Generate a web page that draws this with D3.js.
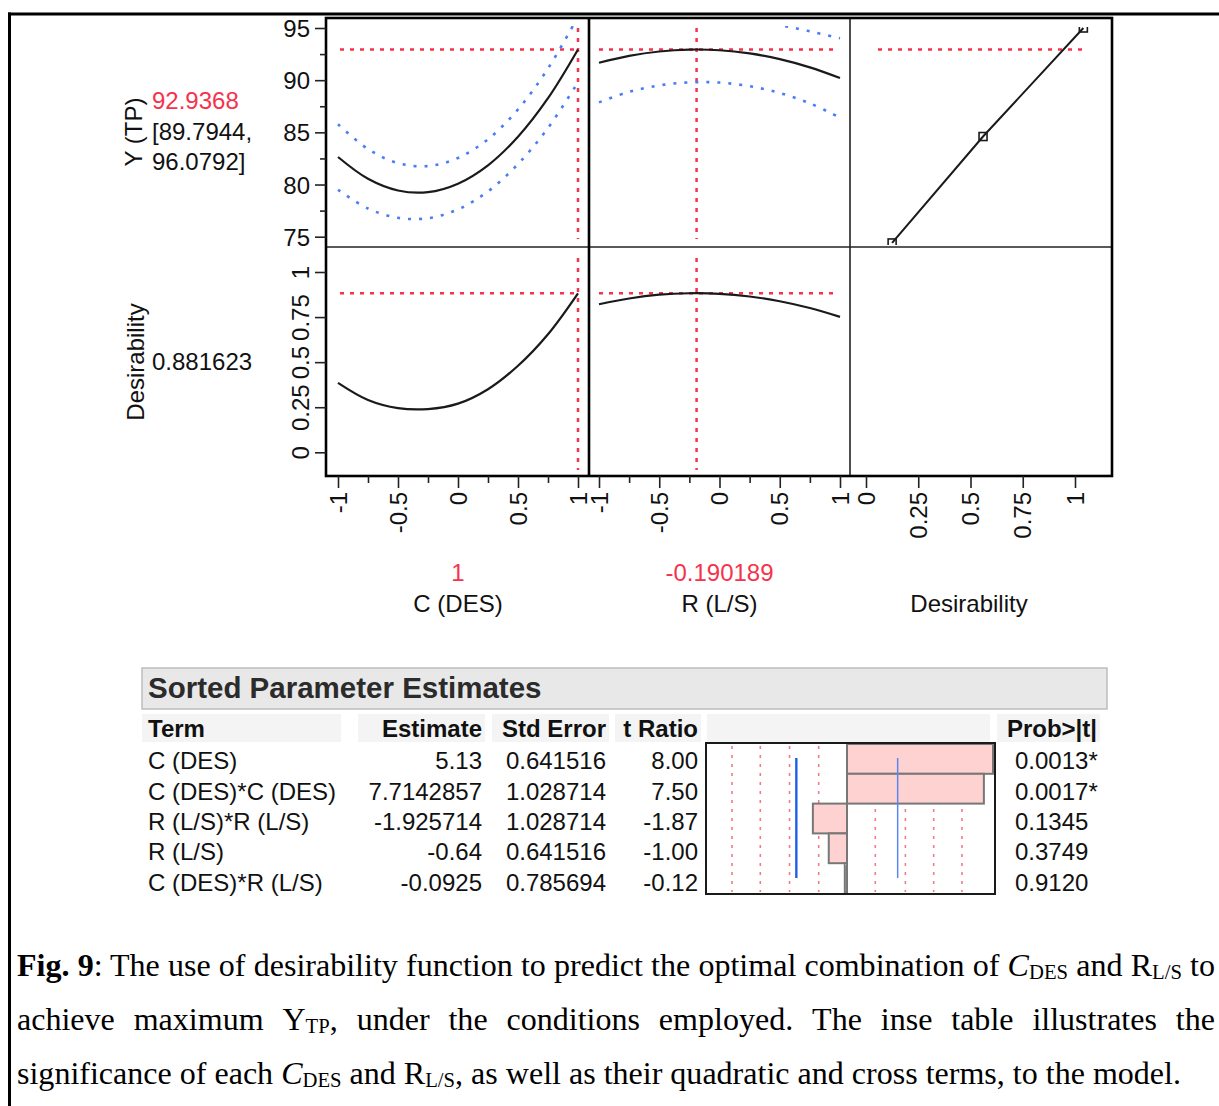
<!DOCTYPE html>
<html><head><meta charset="utf-8">
<script src="https://cdn.jsdelivr.net/npm/d3@7"></script>
<style>body{margin:0;background:#fff;} svg{display:block;}</style>
</head><body>
<svg id="c" width="1219" height="1106"></svg>
<script>
// ---------------- data ----------------
const cLevels = [-1, -0.75, -0.5, -0.25, 0, 0.25, 0.5, 0.75, 1];
const rLevels = [-1, -0.75, -0.5, -0.25, 0, 0.25, 0.5, 0.75, 1];
const yVsC      = [82.64, 80.55, 79.43, 79.27, 80.08, 81.84, 84.58, 88.27, 92.94];
const yVsCUpper = [85.78, 83.40, 82.05, 81.77, 82.54, 84.34, 87.20, 91.12, 96.08];
const yVsCLower = [79.50, 77.70, 76.81, 76.77, 77.62, 79.34, 81.96, 85.42, 89.80];
const yVsR      = [91.67, 92.33, 92.75, 92.93, 92.87, 92.56, 92.02, 91.23, 90.21];
const yVsRUpper = [95.47, 95.78, 96.00, 96.07, 95.97, 95.70, 95.27, 94.68, 94.01];
const yVsRLower = [87.87, 88.88, 89.50, 89.79, 89.77, 89.42, 88.77, 87.78, 86.41];
const dVsC      = [0.385, 0.290, 0.245, 0.240, 0.270, 0.350, 0.480, 0.655, 0.882];
const dVsR      = [0.821, 0.853, 0.874, 0.882, 0.879, 0.864, 0.838, 0.800, 0.751];
const desirD    = [0.125, 0.56, 1.04];
const desirY    = [74.4, 84.6, 95.0];
const currentC = 1, currentR = -0.190189;
const predY = 92.9368, ciText1 = "[89.7944,", ciText2 = "96.0792]", desirability = 0.881623;
const yTopTicks = [75, 80, 85, 90, 95];
const yTopMinor = [77.5, 82.5, 87.5, 92.5];
const yBotTicks = [0, 0.25, 0.5, 0.75, 1];
const xTicks = [-1, -0.5, 0, 0.5, 1];
const xMinor = [-0.75, -0.25, 0.25, 0.75];
const dTicks = [0, 0.25, 0.5, 0.75, 1];

const terms     = ["C (DES)", "C (DES)*C (DES)", "R (L/S)*R (L/S)", "R (L/S)", "C (DES)*R (L/S)"];
const estimates = ["5.13", "7.7142857", "-1.925714", "-0.64", "-0.0925"];
const stdErrors = ["0.641516", "1.028714", "1.028714", "0.641516", "0.785694"];
const tRatios   = [8.00, 7.50, -1.87, -1.00, -0.12];
const probs     = ["0.0013*", "0.0017*", "0.1345", "0.3749", "0.9120"];
const tRefLines = [-6.3, -4.75, -3.15, -1.55, 1.55, 3.2, 4.75, 6.3];
const tCrit = 2.776;

// ---------------- drawing ----------------
const svg = d3.select("#c");
const SANS = "'Liberation Sans', Arial, sans-serif";
const SERIF = "'Liberation Serif', 'Times New Roman', serif";
const RED = "#f5334d", BLUE = "#4a7df5", INK = "#111";

// outer frame
svg.append("line").attr("x1", 8).attr("x2", 1219).attr("y1", 14).attr("y2", 14).attr("stroke", "#000").attr("stroke-width", 3);
svg.append("line").attr("x1", 9.5).attr("x2", 9.5).attr("y1", 12.5).attr("y2", 1106).attr("stroke", "#000").attr("stroke-width", 3);

const P = {L: 326, R: 1112, T: 18, B: 476, midY: 247, d1: 589, d2: 850};
const xC = d3.scaleLinear([-1, 1], [338, 578]);
const xR = d3.scaleLinear([-1, 1], [599, 840]);
const xD = d3.scaleLinear([0, 1], [866, 1075]);
const yTop = d3.scaleLinear([75, 95], [236.7, 28]);
const yBot = d3.scaleLinear([0, 1], [452.3, 272]);

const defs = svg.append("defs");
function clip(id, x0, y0, x1, y1) {
  defs.append("clipPath").attr("id", id).append("rect").attr("x", x0).attr("y", y0).attr("width", x1 - x0).attr("height", y1 - y0);
  return "url(#" + id + ")";
}
const cTL = clip("ctl", P.L, 26, P.d1, P.midY);
const cTM = clip("ctm", P.d1, 26, P.d2, P.midY);
const cBL = clip("cbl", P.L, P.midY, P.d1, P.B);
const cBM = clip("cbm", P.d1, P.midY, P.d2, P.B);

const curve = d3.curveCatmullRom.alpha(0.5);
function drawLine(clipUrl, xs, ys, xScale, yScale, stroke, width, dash) {
  const line = d3.line().x((d, i) => xScale(xs[i])).y(d => yScale(d)).curve(curve);
  const p = svg.append("path").attr("d", line(ys)).attr("fill", "none")
    .attr("stroke", stroke).attr("stroke-width", width).attr("clip-path", clipUrl);
  if (dash) p.attr("stroke-dasharray", dash).attr("stroke-linecap", "butt");
  return p;
}
function redH(x0, x1, y) {
  svg.append("line").attr("x1", x0).attr("x2", x1).attr("y1", y).attr("y2", y)
    .attr("stroke", RED).attr("stroke-width", 2.5).attr("stroke-dasharray", "4,6");
}
function redV(x, y0, y1) {
  svg.append("line").attr("x1", x).attr("x2", x).attr("y1", y0).attr("y2", y1)
    .attr("stroke", RED).attr("stroke-width", 2.5).attr("stroke-dasharray", "4,6");
}

// reference lines
redH(xC(-1) + 2, xC(currentC), yTop(predY));
redV(xC(currentC), yTop(95), P.midY - 8);
redH(xR(-1), xR(1) - 5, yTop(predY));
redV(xR(currentR), yTop(95), P.midY - 8);
redH(xD(0) + 12, xD(1) + 12, yTop(predY));
redH(xC(-1) + 2, xC(currentC), yBot(desirability));
redV(xC(currentC), P.midY + 11, P.B - 6);
redH(xR(-1), xR(1) - 5, yBot(desirability));
redV(xR(currentR), P.midY + 11, P.B - 6);

// curves
drawLine(cTL, cLevels, yVsCUpper, xC, yTop, BLUE, 2.6, "3,8");
drawLine(cTL, cLevels, yVsCLower, xC, yTop, BLUE, 2.6, "3,8");
drawLine(cTL, cLevels, yVsC, xC, yTop, "#1a1a1a", 2.2);
drawLine(cTM, rLevels, yVsRUpper, xR, yTop, BLUE, 2.6, "3,8");
drawLine(cTM, rLevels, yVsRLower, xR, yTop, BLUE, 2.6, "3,8");
drawLine(cTM, rLevels, yVsR, xR, yTop, "#1a1a1a", 2.2);
drawLine(cBL, cLevels, dVsC, xC, yBot, "#1a1a1a", 2.2);
drawLine(cBM, rLevels, dVsR, xR, yBot, "#1a1a1a", 2.2);

// desirability function (top right)
svg.append("path").attr("d", d3.line().x((d, i) => xD(desirD[i])).y(d => yTop(d))(desirY))
  .attr("fill", "none").attr("stroke", "#1a1a1a").attr("stroke-width", 2);
svg.selectAll("rect.dpt").data(desirY).enter().append("rect").attr("class", "dpt")
  .attr("x", (d, i) => xD(desirD[i]) - 4).attr("y", d => yTop(d) - 4)
  .attr("width", 8).attr("height", 8).attr("fill", "none").attr("stroke", "#1a1a1a").attr("stroke-width", 1.6)
  .attr("clip-path", clip("cdp", P.d2, 27, P.R, P.midY - 2));

// frame of the profiler grid
svg.append("line").attr("x1", P.L).attr("x2", P.R).attr("y1", P.midY).attr("y2", P.midY).attr("stroke", "#222").attr("stroke-width", 1.6);
svg.append("line").attr("x1", P.d2).attr("x2", P.d2).attr("y1", P.T).attr("y2", P.B).attr("stroke", "#222").attr("stroke-width", 1.6);
svg.append("line").attr("x1", P.d1).attr("x2", P.d1).attr("y1", P.T).attr("y2", P.B).attr("stroke", "#000").attr("stroke-width", 2.6);
svg.append("rect").attr("x", P.L).attr("y", P.T).attr("width", P.R - P.L).attr("height", P.B - P.T)
  .attr("fill", "none").attr("stroke", "#000").attr("stroke-width", 2.6);

function styleAxis(g) {
  g.select(".domain").remove();
  g.selectAll("line").attr("stroke", "#222").attr("stroke-width", 1.6);
  g.selectAll("text").attr("font-family", SANS).attr("font-size", 24).attr("fill", INK);
}
const fmt = d => String(d);

// top y axis
svg.append("g").attr("transform", `translate(${P.L},0)`)
  .call(d3.axisLeft(yTop).tickValues(yTopTicks).tickFormat(fmt).tickSize(11).tickPadding(5))
  .call(styleAxis).selectAll("text").attr("dy", "0.36em");
svg.append("g").attr("transform", `translate(${P.L},0)`)
  .call(d3.axisLeft(yTop).tickValues(yTopMinor).tickFormat("").tickSize(6)).call(styleAxis);

// bottom y axis (rotated labels)
svg.append("g").attr("transform", `translate(${P.L},0)`)
  .call(d3.axisLeft(yBot).tickValues(yBotTicks).tickFormat(fmt).tickSize(11))
  .call(styleAxis).selectAll("text")
  .attr("x", 0).attr("dy", null).attr("text-anchor", "middle")
  .attr("transform", "translate(-17,0) rotate(-90)");

// x axes
function xAxis(scale, major, minor) {
  const g = svg.append("g").attr("transform", `translate(0,${P.B})`)
    .call(d3.axisBottom(scale).tickValues(major).tickFormat(fmt).tickSize(12))
    .call(styleAxis);
  g.selectAll("text").attr("y", 0).attr("dy", null).attr("text-anchor", "end")
    .attr("transform", "translate(8,16) rotate(-90)");
  if (minor) svg.append("g").attr("transform", `translate(0,${P.B})`)
    .call(d3.axisBottom(scale).tickValues(minor).tickFormat("").tickSize(7)).call(styleAxis);
}
xAxis(xC, xTicks, xMinor);
xAxis(xR, xTicks, xMinor);
xAxis(xD, dTicks, null);

// labels
function txt(x, y, s, opts = {}) {
  const t = svg.append("text").attr("x", x).attr("y", y).text(s)
    .attr("font-family", opts.family || SANS).attr("font-size", opts.size || 24)
    .attr("fill", opts.fill || INK).attr("text-anchor", opts.anchor || "start");
  if (opts.weight) t.attr("font-weight", opts.weight);
  if (opts.rotate) t.attr("transform", `rotate(-90,${x},${y})`);
  return t;
}
txt(142, 132, "Y (TP)", {anchor: "middle", rotate: true});
txt(152, 109, String(predY), {fill: RED});
txt(152, 140, ciText1);
txt(152, 170, ciText2);
txt(144, 362, "Desirability", {anchor: "middle", rotate: true});
txt(152, 370, String(desirability));
txt(xC(0), 581, String(currentC), {anchor: "middle", fill: RED});
txt(xR(0), 581, String(currentR), {anchor: "middle", fill: RED});
txt(xC(0), 612, "C (DES)", {anchor: "middle"});
txt(xR(0), 612, "R (L/S)", {anchor: "middle"});
txt(969, 612, "Desirability", {anchor: "middle"});

// ---------------- table ----------------
svg.append("rect").attr("x", 142).attr("y", 668).attr("width", 965).attr("height", 41)
  .attr("fill", "#e8e8e8").attr("stroke", "#bdbdbd").attr("stroke-width", 1.5);
txt(148, 698, "Sorted Parameter Estimates", {weight: "bold", size: 29.5, fill: "#2b2b2b"});

const headers = [
  {x0: 142, x1: 341, label: "Term", tx: 148, anchor: "start"},
  {x0: 358, x1: 485, label: "Estimate", tx: 482, anchor: "end"},
  {x0: 492, x1: 609, label: "Std Error", tx: 606, anchor: "end"},
  {x0: 615, x1: 701, label: "t Ratio", tx: 698, anchor: "end"},
  {x0: 707, x1: 990, label: "", tx: 0, anchor: "start"},
  {x0: 997, x1: 1100, label: "Prob>|t|", tx: 1097, anchor: "end"}
];
headers.forEach(h => {
  svg.append("rect").attr("x", h.x0).attr("y", 714).attr("width", h.x1 - h.x0).attr("height", 28).attr("fill", "#f4f4f4");
  if (h.label) txt(h.tx, 737, h.label, {weight: "bold", anchor: h.anchor});
});

const rowY = d3.scaleBand(terms, [744, 893]);
const rowText = d3.scaleBand(terms, [745, 897]);
const xt = d3.scaleLinear([-8, 8], [847 - 146, 847 + 146]);
terms.forEach((t, i) => {
  const yb = rowText(t) + rowText.bandwidth() / 2 + 9;
  txt(148, yb, t);
  txt(482, yb, estimates[i], {anchor: "end"});
  txt(606, yb, stdErrors[i], {anchor: "end"});
  txt(698, yb, tRatios[i].toFixed(2), {anchor: "end"});
  txt(1015, yb, probs[i]);
});

// bar chart of t ratios
svg.selectAll("line.ref").data(tRefLines).enter().append("line").attr("class", "ref")
  .attr("x1", d => xt(d)).attr("x2", d => xt(d)).attr("y1", 746).attr("y2", 892)
  .attr("stroke", "#f27a8a").attr("stroke-width", 1.6).attr("stroke-dasharray", "3,6");
svg.selectAll("rect.bar").data(tRatios).enter().append("rect").attr("class", "bar")
  .attr("x", d => xt(Math.min(0, d))).attr("y", (d, i) => rowY(terms[i]))
  .attr("width", d => Math.abs(xt(d) - xt(0))).attr("height", rowY.bandwidth())
  .attr("fill", "#ffd2d2").attr("stroke", "#777").attr("stroke-width", 2);
svg.append("line").attr("x1", xt(-tCrit)).attr("x2", xt(-tCrit)).attr("y1", 758).attr("y2", 878)
  .attr("stroke", "#1f5fe6").attr("stroke-width", 2.4);
svg.append("line").attr("x1", xt(tCrit)).attr("x2", xt(tCrit)).attr("y1", 758).attr("y2", 878)
  .attr("stroke", "#5a86f2").attr("stroke-width", 1.5);
svg.append("rect").attr("x", 706).attr("y", 743).attr("width", 289).attr("height", 151)
  .attr("fill", "none").attr("stroke", "#1a1a1a").attr("stroke-width", 2);

// ---------------- caption ----------------
const FS = 31, SUB = 20;
const lines = [
  [[["Fig.", "b"]], [["9", "b"], [": The", ""]], "use", "of", "desirability", "function", "to", "predict", "the", "optimal",
   "combination", "of", [["C", "i"], ["DES", "s"]], "and", [["R", ""], ["L/S", "s"]], "to"],
  ["achieve", "maximum", [["Y", ""], ["TP", "s"], [",", ""]], "under", "the", "conditions", "employed.", "The", "inse",
   "table", "illustrates", "the"],
  ["significance", "of", "each", [["C", "i"], ["DES", "s"]], "and", [["R", ""], ["L/S", "s"], [",", ""]], "as", "well", "as",
   "their", "quadratic", "and", "cross", "terms,", "to", "the", "model."]
];
const baselines = [976, 1030, 1084];
const justify = [1198, 1198, null];

function makeToken(g, tok) {
  const segs = typeof tok === "string" ? [[tok, ""]] : tok;
  const t = g.append("text").attr("font-family", SERIF).attr("font-size", FS).attr("fill", "#000");
  let shifted = false;
  segs.forEach(([s, st]) => {
    const ts = t.append("tspan").text(s);
    if (st === "b") ts.attr("font-weight", "bold");
    if (st === "i") ts.attr("font-style", "italic");
    if (st === "s") { ts.attr("font-size", SUB).attr("dy", 3); shifted = true; }
    else if (shifted) { ts.attr("dy", -3); shifted = false; }
  });
  return t;
}
const capG = svg.append("g");
const built = lines.map((ln, li) => {
  const g = capG.append("g");
  const toks = ln.map(tok => makeToken(g, tok));
  const widths = toks.map(t => t.node().getComputedTextLength());
  return {g, toks, widths};
});
const spaceW = (() => {
  const t = capG.append("text").attr("font-family", SERIF).attr("font-size", FS).text("a a");
  const t2 = capG.append("text").attr("font-family", SERIF).attr("font-size", FS).text("aa");
  const w = t.node().getComputedTextLength() - t2.node().getComputedTextLength();
  t.remove(); t2.remove();
  return w;
})();
const last = built[2];
const natural3 = d3.sum(last.widths) + spaceW * (last.widths.length - 1);
const sx = (1181 - 17) / natural3;
built.forEach((b, li) => {
  b.g.attr("transform", `translate(17,${baselines[li]}) scale(${sx},1)`);
  const n = b.widths.length;
  const gap = justify[li] ? (justify[li] / sx - d3.sum(b.widths)) / (n - 1) : spaceW;
  let x = 0;
  b.toks.forEach((t, i) => { t.attr("x", x).attr("y", 0); x += b.widths[i] + gap; });
});
</script>
</body></html>
